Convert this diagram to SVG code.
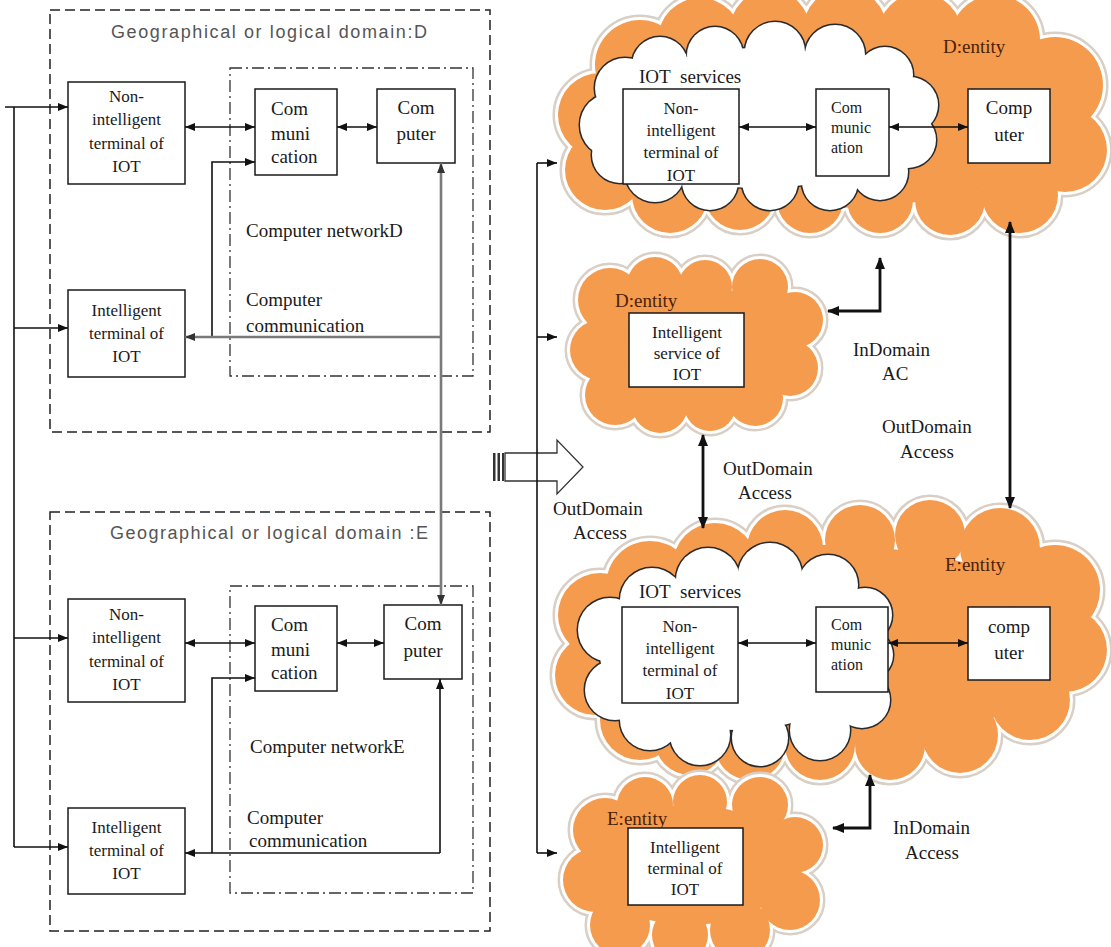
<svg xmlns="http://www.w3.org/2000/svg" width="1111" height="947" viewBox="0 0 1111 947">
<style>
.box{fill:#fff;stroke:#1a1a1a;stroke-width:1.5}
.t{font-family:"Liberation Serif","Times New Roman",serif;font-size:17px;fill:#1a1a1a;text-anchor:middle}
.tl{font-family:"Liberation Serif","Times New Roman",serif;font-size:19px;fill:#1a1a1a}
.tc{font-family:"Liberation Serif","Times New Roman",serif;font-size:19px;fill:#1a1a1a;text-anchor:middle}
.ts{font-family:"Liberation Serif","Times New Roman",serif;font-size:16px;fill:#1a1a1a}
.ttl{font-family:"Liberation Sans",Arial,sans-serif;font-size:18px;fill:#555}
.ent{font-family:"Liberation Serif","Times New Roman",serif;font-size:19px;fill:#4a2208}
.dash{fill:none;stroke:#222;stroke-width:1.5;stroke-dasharray:10 5}
.dd{fill:none;stroke:#333;stroke-width:1.3;stroke-dasharray:12 4 2 4}
.c{fill:none;stroke:#111;stroke-width:1.6}
.cg{fill:none;stroke:#7a7a7a;stroke-width:2.6}
.ck{fill:none;stroke:#111;stroke-width:2.8}
.halo{fill:none;stroke:#d8cfc6;stroke-width:11}
.ring{fill:none;stroke:#fff;stroke-width:6}
.orange{fill:#F59B4E;stroke:none}
.wring{fill:none;stroke:#2a2a2a;stroke-width:3}
.wfill{fill:#fff;stroke:none}
</style>
<defs>
<marker id="a" viewBox="0 0 10 8" refX="10" refY="4" markerWidth="10" markerHeight="8" markerUnits="userSpaceOnUse" orient="auto-start-reverse"><path d="M0,0L10,4L0,8z" fill="#111"/></marker>
<marker id="ag" viewBox="0 0 10 8" refX="10" refY="4" markerWidth="10" markerHeight="8" markerUnits="userSpaceOnUse" orient="auto-start-reverse"><path d="M0,0L10,4L0,8z" fill="#333"/></marker>
<marker id="ab" viewBox="0 0 12 10" refX="11" refY="5" markerWidth="12" markerHeight="10" markerUnits="userSpaceOnUse" orient="auto-start-reverse"><path d="M0,0L12,5L0,10z" fill="#111"/></marker>
<g id="cTop">
<ellipse cx="830" cy="118" rx="240" ry="90"/>
<circle cx="600" cy="115" r="42"/><circle cx="605" cy="170" r="40"/><circle cx="640" cy="65" r="45"/><circle cx="700" cy="40" r="42"/>
<circle cx="770" cy="30" r="40"/><circle cx="845" cy="30" r="42"/><circle cx="920" cy="35" r="42"/><circle cx="995" cy="40" r="45"/>
<circle cx="1055" cy="85" r="48"/><circle cx="1065" cy="150" r="42"/><circle cx="1020" cy="195" r="38"/><circle cx="950" cy="200" r="35"/>
<circle cx="880" cy="200" r="33"/><circle cx="810" cy="200" r="33"/><circle cx="740" cy="195" r="35"/><circle cx="670" cy="195" r="38"/>
</g>
<g id="wTop">
<ellipse cx="760" cy="118" rx="150" ry="70"/>
<circle cx="612" cy="125" r="32"/><circle cx="625" cy="88" r="30"/><circle cx="660" cy="65" r="28"/><circle cx="715" cy="55" r="28"/>
<circle cx="775" cy="52" r="30"/><circle cx="835" cy="55" r="30"/><circle cx="885" cy="75" r="28"/><circle cx="910" cy="105" r="28"/>
<circle cx="908" cy="140" r="28"/><circle cx="880" cy="172" r="28"/><circle cx="830" cy="182" r="28"/><circle cx="770" cy="182" r="28"/>
<circle cx="710" cy="182" r="28"/><circle cx="655" cy="172" r="30"/><circle cx="620" cy="155" r="28"/>
</g>
<g id="cMid">
<ellipse cx="697" cy="347" rx="100" ry="60"/>
<circle cx="610" cy="300" r="32"/><circle cx="600" cy="350" r="30"/><circle cx="615" cy="395" r="30"/><circle cx="660" cy="405" r="28"/>
<circle cx="710" cy="405" r="26"/><circle cx="755" cy="398" r="28"/><circle cx="790" cy="368" r="28"/><circle cx="795" cy="320" r="28"/>
<circle cx="760" cy="287" r="28"/><circle cx="705" cy="287" r="27"/><circle cx="655" cy="285" r="28"/>
</g>
<g id="cE">
<ellipse cx="825" cy="645" rx="245" ry="100"/>
<circle cx="600" cy="615" r="42"/><circle cx="595" cy="675" r="40"/><circle cx="640" cy="720" r="40"/><circle cx="650" cy="585" r="44"/>
<circle cx="715" cy="565" r="42"/><circle cx="785" cy="548" r="38"/><circle cx="860" cy="540" r="35"/><circle cx="930" cy="535" r="35"/>
<circle cx="1000" cy="548" r="40"/><circle cx="1055" cy="590" r="45"/><circle cx="1065" cy="650" r="42"/><circle cx="1030" cy="700" r="40"/>
<circle cx="960" cy="735" r="38"/><circle cx="890" cy="745" r="35"/><circle cx="820" cy="745" r="35"/><circle cx="750" cy="745" r="35"/><circle cx="690" cy="740" r="35"/>
</g>
<g id="wE">
<ellipse cx="735" cy="655" rx="135" ry="75"/>
<circle cx="610" cy="630" r="32"/><circle cx="615" cy="690" r="30"/><circle cx="652" cy="600" r="32"/><circle cx="708" cy="580" r="32"/>
<circle cx="770" cy="575" r="32"/><circle cx="828" cy="585" r="30"/><circle cx="865" cy="615" r="27"/><circle cx="868" cy="655" r="25"/>
<circle cx="862" cy="700" r="28"/><circle cx="820" cy="730" r="30"/><circle cx="760" cy="738" r="28"/><circle cx="700" cy="735" r="30"/><circle cx="650" cy="720" r="30"/>
</g>
<g id="cSE">
<ellipse cx="690" cy="865" rx="100" ry="60"/>
<circle cx="605" cy="830" r="32"/><circle cx="595" cy="880" r="32"/><circle cx="620" cy="925" r="30"/><circle cx="680" cy="935" r="28"/>
<circle cx="740" cy="930" r="30"/><circle cx="790" cy="900" r="30"/><circle cx="795" cy="845" r="28"/><circle cx="760" cy="805" r="28"/>
<circle cx="700" cy="802" r="27"/><circle cx="645" cy="805" r="28"/>
</g>
<clipPath id="clipN1"><rect x="623" y="89" width="116" height="95"/></clipPath>
<clipPath id="clipN2"><rect x="622" y="607" width="116" height="96"/></clipPath>
</defs>
<rect width="1111" height="947" fill="#fff"/>

<!-- Domain D -->
<g id="domainD">
<rect class="dash" x="50" y="10" width="440" height="422"/>
<text class="ttl" x="111" y="38" textLength="316" lengthAdjust="spacing">Geographical or logical domain:D</text>
</g>
<g id="netD">
<rect class="dd" x="230" y="68" width="243" height="308"/>
<text class="tl" x="246" y="237">Computer networkD</text>
<text class="tl" x="246" y="306">Computer</text>
<text class="tl" x="246" y="332">communication</text>
</g>
<g id="nonIntD"><rect class="box" x="68" y="82" width="117" height="102"/>
<text class="t" x="126.5" y="102">Non-</text><text class="t" x="126.5" y="125">intelligent</text><text class="t" x="126.5" y="149">terminal of</text><text class="t" x="126.5" y="172">IOT</text></g>
<g id="intD"><rect class="box" x="68" y="290" width="117" height="87"/>
<text class="t" x="126.5" y="316">Intelligent</text><text class="t" x="126.5" y="339">terminal of</text><text class="t" x="126.5" y="362">IOT</text></g>
<g id="commD"><rect class="box" x="255" y="89" width="82" height="86"/>
<text class="tl" x="271" y="115">Com</text><text class="tl" x="271" y="140">muni</text><text class="tl" x="271" y="163">cation</text></g>
<g id="compD"><rect class="box" x="377" y="89" width="78" height="74"/>
<text class="tc" x="416" y="114">Com</text><text class="tc" x="416" y="140">puter</text></g>

<!-- Domain E -->
<g id="domainE">
<rect class="dash" x="50" y="512" width="440" height="419"/>
<text class="ttl" x="110" y="539" textLength="318" lengthAdjust="spacing">Geographical or logical domain :E</text>
</g>
<g id="netE">
<rect class="dd" x="230" y="586" width="243" height="307"/>
<text class="tl" x="250" y="753">Computer networkE</text>
<text class="tl" x="247" y="824">Computer</text>
<text class="tl" x="249" y="847">communication</text>
</g>
<g id="nonIntE"><rect class="box" x="68" y="599" width="117" height="103"/>
<text class="t" x="126.5" y="620">Non-</text><text class="t" x="126.5" y="643">intelligent</text><text class="t" x="126.5" y="667">terminal of</text><text class="t" x="126.5" y="690">IOT</text></g>
<g id="intE"><rect class="box" x="68" y="808" width="117" height="86"/>
<text class="t" x="126.5" y="833">Intelligent</text><text class="t" x="126.5" y="856">terminal of</text><text class="t" x="126.5" y="879">IOT</text></g>
<g id="commE"><rect class="box" x="255" y="606" width="82" height="85"/>
<text class="tl" x="271" y="631">Com</text><text class="tl" x="271" y="656">muni</text><text class="tl" x="271" y="679">cation</text></g>
<g id="compE"><rect class="box" x="384" y="605" width="78" height="74"/>
<text class="tc" x="423" y="630">Com</text><text class="tc" x="423" y="657">puter</text></g>

<!-- hollow transform arrow -->
<g id="bigArrow">
<rect x="493" y="453" width="2.5" height="28" fill="#333"/>
<rect x="497.5" y="453" width="2.5" height="28" fill="#333"/>
<rect x="502" y="453" width="2" height="28" fill="#333"/>
<path d="M505,453 H557 V440 L583,467 L557,494 V481 H505 Z" fill="#fff" stroke="#333" stroke-width="1.3"/>
</g>

<!-- Right side clouds -->
<g id="cloudD">
<use href="#cTop" class="halo"/><use href="#cTop" class="ring"/><use href="#cTop" class="orange"/>
<use href="#wTop" class="wring"/><use href="#wTop" class="wfill"/>
<text class="ent" x="943" y="53">D:entity</text>
<text class="tl" x="639" y="83" word-spacing="5">IOT services</text>
</g>
<g id="rNonIntD"><rect class="box" x="623" y="89" width="116" height="95"/>
<g clip-path="url(#clipN1)"><text class="t" x="681" y="114">Non-</text><text class="t" x="681" y="136">intelligent</text><text class="t" x="681" y="158">terminal of</text><text class="t" x="681" y="181">IOT</text></g></g>
<g id="rCommD"><rect class="box" x="816" y="89" width="73" height="87"/>
<text class="ts" x="831" y="113">Com</text><text class="ts" x="831" y="133">munic</text><text class="ts" x="831" y="153">ation</text></g>
<g id="rCompD"><rect class="box" x="968" y="89" width="82" height="74"/>
<text class="tc" x="1009" y="114">Comp</text><text class="tc" x="1009" y="141">uter</text></g>

<g id="cloudDmid">
<use href="#cMid" class="halo"/><use href="#cMid" class="ring"/><use href="#cMid" class="orange"/>
<text class="ent" x="615" y="307">D:entity</text>
</g>
<g id="rIntServD"><rect class="box" x="629" y="313" width="115" height="74"/>
<text class="t" x="687" y="338">Intelligent</text><text class="t" x="687" y="359">service of</text><text class="t" x="687" y="380">IOT</text></g>

<g id="cloudE">
<use href="#cE" class="halo"/><use href="#cE" class="ring"/><use href="#cE" class="orange"/>
<use href="#wE" class="wring"/><use href="#wE" class="wfill"/>
<text class="ent" x="945" y="571">E:entity</text>
<text class="tl" x="639" y="598" word-spacing="5">IOT services</text>
</g>
<g id="rNonIntE"><rect class="box" x="622" y="607" width="116" height="96"/>
<g clip-path="url(#clipN2)"><text class="t" x="680" y="632">Non-</text><text class="t" x="680" y="654">intelligent</text><text class="t" x="680" y="676">terminal of</text><text class="t" x="680" y="699">IOT</text></g></g>
<g id="rCommE"><rect class="box" x="816" y="607" width="72" height="85"/>
<text class="ts" x="831" y="630">Com</text><text class="ts" x="831" y="650">munic</text><text class="ts" x="831" y="670">ation</text></g>
<g id="rCompE"><rect class="box" x="968" y="607" width="82" height="73"/>
<text class="tc" x="1009" y="633">comp</text><text class="tc" x="1009" y="659">uter</text></g>

<g id="cloudEsmall">
<use href="#cSE" class="halo"/><use href="#cSE" class="ring"/><use href="#cSE" class="orange"/>
<text class="ent" x="607" y="825">E:entity</text>
</g>
<g id="rIntE"><rect class="box" x="628" y="828" width="115" height="77"/>
<text class="t" x="685" y="853">Intelligent</text><text class="t" x="685" y="874">terminal of</text><text class="t" x="685" y="895">IOT</text></g>

<!-- labels -->
<g id="labels">
<text class="tl" x="853" y="356">InDomain</text>
<text class="tl" x="882" y="380">AC</text>
<text class="tl" x="882" y="433">OutDomain</text>
<text class="tl" x="900" y="458">Access</text>
<text class="tl" x="723" y="475">OutDomain</text>
<text class="tl" x="738" y="499">Access</text>
<text class="tl" x="553" y="515">OutDomain</text>
<text class="tl" x="573" y="539">Access</text>
<text class="tl" x="893" y="834">InDomain</text>
<text class="tl" x="905" y="859">Access</text>
</g>

<!-- connectors -->
<g id="connectors">
<path class="c" d="M14,107 V847"/>
<path class="c" d="M5,107 H68" marker-end="url(#a)"/>
<path class="c" d="M14,328 H68" marker-end="url(#a)"/>
<path class="c" d="M14,638 H68" marker-end="url(#a)"/>
<path class="c" d="M14,847 H68" marker-end="url(#a)"/>
<path class="c" d="M185,127 H255" marker-start="url(#a)" marker-end="url(#a)"/>
<path class="c" d="M337,127 H377" marker-start="url(#a)" marker-end="url(#a)"/>
<path class="c" d="M212,337 V162 H255" marker-end="url(#a)"/>
<path class="cg" d="M441,163 V605" marker-start="url(#ag)" marker-end="url(#ag)"/>
<path class="cg" d="M441,337 H185" marker-end="url(#ag)"/>
<path class="c" d="M185,643 H255" marker-start="url(#a)" marker-end="url(#a)"/>
<path class="c" d="M337,643 H384" marker-start="url(#a)" marker-end="url(#a)"/>
<path class="c" d="M212,853 V678 H255" marker-end="url(#a)"/>
<path class="c" d="M440,853 H185" marker-end="url(#a)"/>
<path class="c" d="M440,853 V679" marker-end="url(#a)"/>
<path class="c" d="M537,163 V853"/>
<path class="c" d="M537,163 H557" marker-end="url(#a)"/>
<path class="c" d="M537,337 H557" marker-end="url(#a)"/>
<path class="c" d="M537,853 H557" marker-end="url(#a)"/>
<path class="c" d="M739,127 H816" marker-start="url(#a)" marker-end="url(#a)"/>
<path class="c" d="M889,127 H968" marker-start="url(#a)" marker-end="url(#a)"/>
<path class="c" d="M738,643 H816" marker-start="url(#a)" marker-end="url(#a)"/>
<path class="c" d="M888,643 H968" marker-start="url(#a)" marker-end="url(#a)"/>
<path class="ck" d="M828,311 H880 V258" marker-start="url(#ab)" marker-end="url(#ab)"/>
<path class="ck" d="M1010,222 V508" marker-start="url(#ab)" marker-end="url(#ab)"/>
<path class="ck" d="M703,435 V528" marker-start="url(#ab)" marker-end="url(#ab)"/>
<path class="ck" d="M833,828 H870 V775" marker-start="url(#ab)" marker-end="url(#ab)"/>
</g>
</svg>
